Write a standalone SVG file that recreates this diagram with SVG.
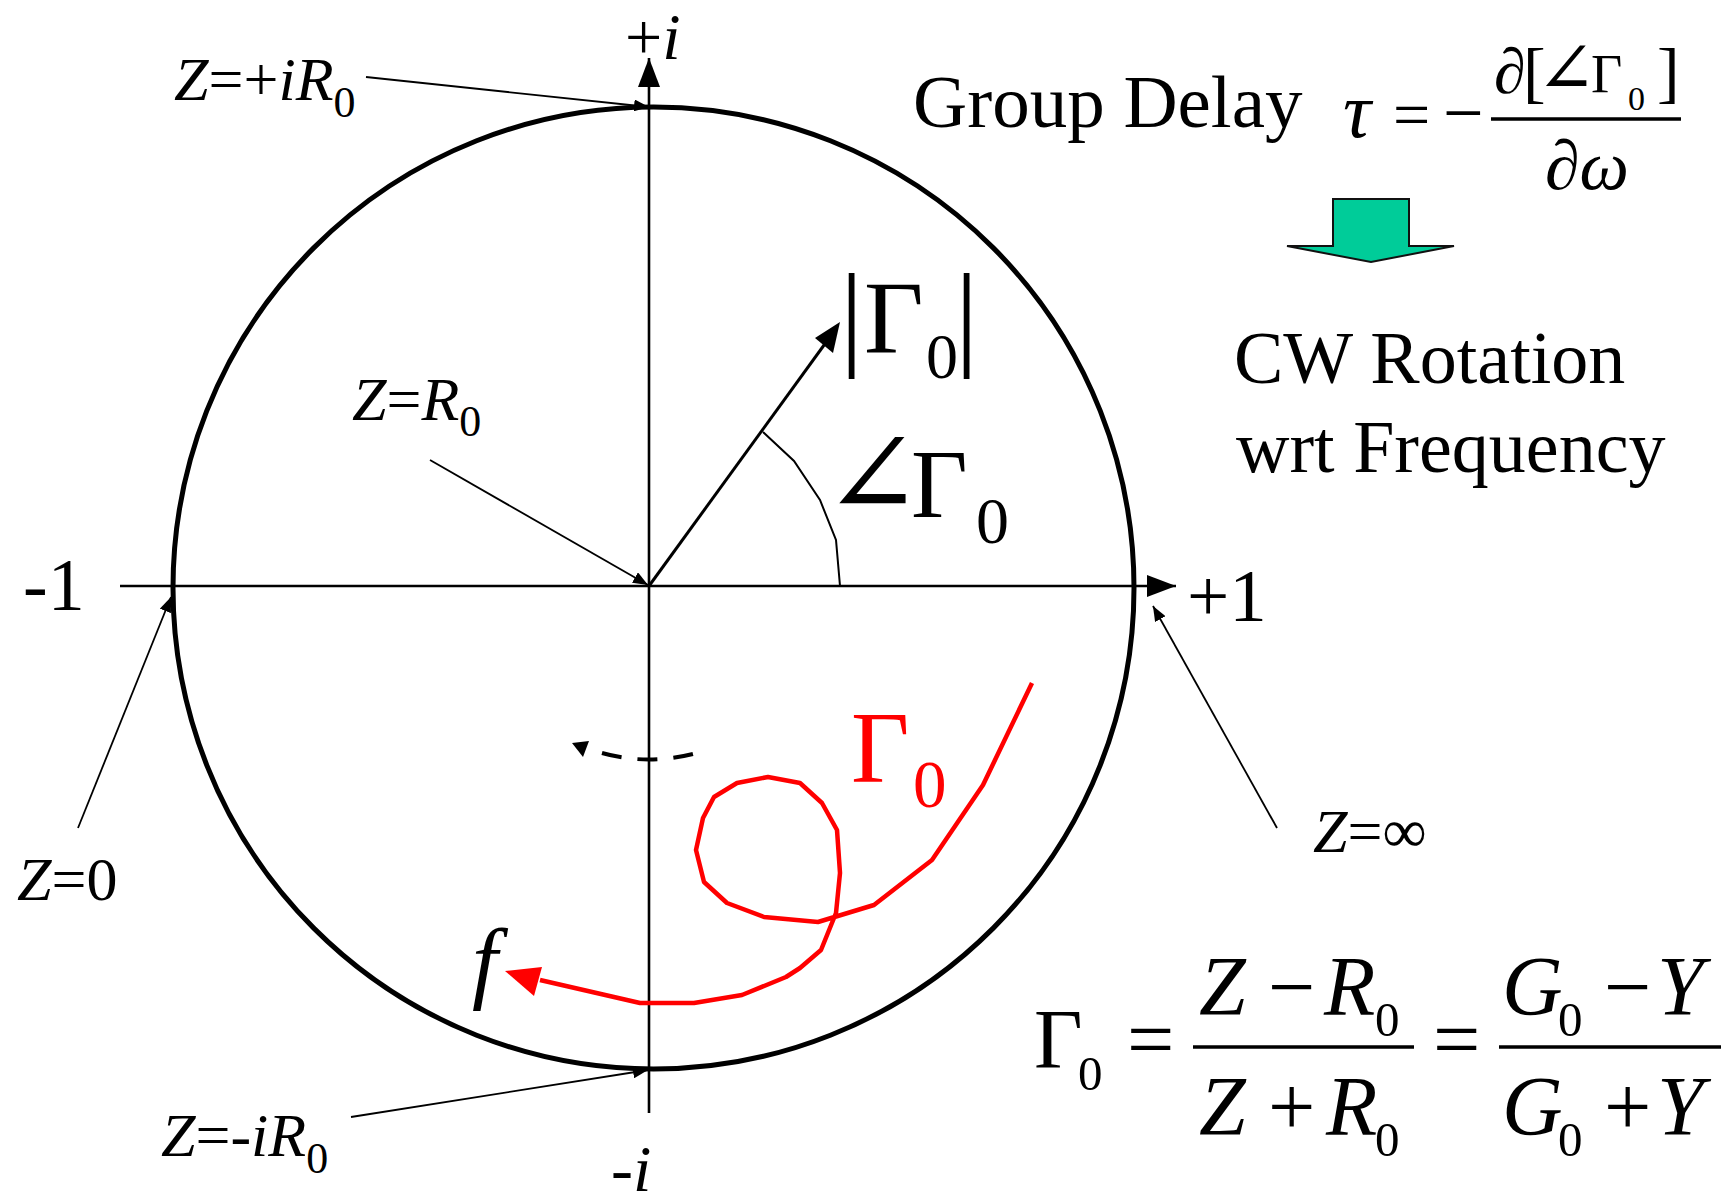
<svg xmlns="http://www.w3.org/2000/svg" width="1726" height="1197" viewBox="0 0 1726 1197">
<style>
  text { font-family: "Liberation Serif", "Times New Roman", "DejaVu Serif", serif; fill: #000; }
  .it { font-style: italic; }
  .red { fill: #ff0000; }
  .lead { stroke: #000; stroke-width: 1.8; fill: none; marker-end: url(#sm); }
  .ax { stroke: #000; stroke-width: 2.6; fill: none; marker-end: url(#big); }
  .bar { stroke: #000; stroke-width: 3.5; }
</style>
<defs>
  <marker id="sm" markerUnits="userSpaceOnUse" markerWidth="16" markerHeight="12" refX="15" refY="6" orient="auto">
    <path d="M0,0 L15,6 L0,12 z" fill="#000"/>
  </marker>
  <marker id="big" markerUnits="userSpaceOnUse" markerWidth="30" markerHeight="22" refX="29" refY="11" orient="auto">
    <path d="M0,0 L29,11 L0,22 z" fill="#000"/>
  </marker>
</defs>
<rect width="1726" height="1197" fill="#fff"/>

<g id="chart">
  <ellipse id="unit-circle" cx="653.5" cy="588" rx="480.5" ry="481" fill="none" stroke="#000" stroke-width="5"/>
  <line id="imag-axis" class="ax" x1="649" y1="1113" x2="649" y2="58"/>
  <line id="real-axis" class="ax" x1="120" y1="586" x2="1176" y2="586"/>
  <g id="gamma-vector">
    <line x1="649" y1="586" x2="827" y2="341" stroke="#000" stroke-width="3"/>
    <polygon points="840,322 815,338 833,353" fill="#000"/>
  </g>
  <polyline id="angle-arc" points="763,432 794,461 820,500 836,540 840,586" fill="none" stroke="#000" stroke-width="2"/>
  <g id="rotation-arrow">
    <path d="M602,753 Q648,766 697,753" fill="none" stroke="#000" stroke-width="4" stroke-dasharray="20 16"/>
    <polygon points="572,743 589,741 583,757" fill="#000"/>
  </g>
  <g id="gamma-locus">
    <polyline points="1032,683 983,785 932,860 874,905 818,922 764,917 727,903 704,882 696,850 703,818 714,797 737,783 768,777 800,783 822,803 837,830 840,873 836,913 821,950 800,968 786,977 742,995 694,1003 640,1003 540,980" fill="none" stroke="#ff0000" stroke-width="4.5" stroke-linejoin="round"/>
    <polygon points="505,971 542,967 534,996" fill="#ff0000"/>
  </g>
</g>

<g id="connectors">
  <line class="lead" x1="366" y1="77" x2="649" y2="107"/>
  <line class="lead" x1="430" y1="460" x2="648" y2="585"/>
  <line class="lead" x1="78" y1="828" x2="171" y2="597"/>
  <line class="lead" x1="1277" y1="828" x2="1153" y2="606"/>
  <line class="lead" x1="351" y1="1117" x2="648" y2="1070"/>
</g>

<g id="label-plus-i"><text x="625" y="59" font-size="66">+<tspan class="it">i</tspan></text></g>
<g id="label-minus-i"><text x="611" y="1191" font-size="66">-<tspan class="it">i</tspan></text></g>
<g id="label-minus-1"><text x="23" y="610" font-size="74">-1</text></g>
<g id="label-plus-1"><text x="1187" y="621" font-size="75">+1</text></g>

<g id="label-z-plus-ir0"><text x="174" y="100" font-size="62"><tspan class="it">Z</tspan>=+<tspan class="it">iR</tspan><tspan font-size="44" dy="17">0</tspan></text></g>
<g id="label-z-r0"><text x="352" y="420" font-size="62"><tspan class="it">Z</tspan>=<tspan class="it">R</tspan><tspan font-size="44" dy="16">0</tspan></text></g>
<g id="label-z-0"><text x="17" y="900" font-size="62"><tspan class="it">Z</tspan>=0</text></g>
<g id="label-z-inf"><text x="1313" y="852" font-size="62"><tspan class="it">Z</tspan>=∞</text></g>
<g id="label-z-minus-ir0"><text x="161" y="1156" font-size="62"><tspan class="it">Z</tspan>=-<tspan class="it">iR</tspan><tspan font-size="44" dy="17">0</tspan></text></g>

<g id="label-mag">
  <text font-size="116"><tspan x="840" y="354">|</tspan><tspan x="955" y="354">|</tspan></text>
  <text x="864" y="353" font-size="103">Γ</text>
  <text x="926" y="378" font-size="64">0</text>
</g>
<g id="label-angle">
  <text x="823" y="515" font-size="118">∠</text>
  <text x="911" y="517" font-size="98">Γ</text>
  <text x="976" y="543" font-size="66">0</text>
</g>
<g id="label-gamma-red">
  <text class="red" x="851" y="782" font-size="101">Γ</text>
  <text class="red" x="913" y="807" font-size="67">0</text>
</g>
<g id="label-f"><text class="it" x="472" y="992" font-size="92">f</text></g>

<g id="group-delay">
  <text x="913" y="127" font-size="75">Group Delay</text>
  <text class="it" x="1343" y="137" font-size="78">τ</text>
  <text x="1393" y="137" font-size="66">=</text>
  <text x="1443" y="137" font-size="72">−</text>
  <line class="bar" x1="1491" y1="119" x2="1681" y2="119" stroke-width="3"/>
  <text x="1494" y="93" font-size="64">∂</text>
  <text x="1523" y="95" font-size="68">[</text>
  <text x="1536" y="93" font-size="72">∠</text>
  <text x="1591" y="92" font-size="54">Γ</text>
  <text x="1628" y="110" font-size="34">0</text>
  <text x="1657" y="95" font-size="68">]</text>
  <text x="1545" y="189" font-size="70">∂<tspan class="it">ω</tspan></text>
</g>

<g id="cw-arrow">
  <polygon points="1333,199 1409,199 1409,246 1454,246 1371,262 1287,246 1333,246" fill="#00cc99" stroke="#111" stroke-width="2"/>
</g>
<g id="cw-text">
  <text x="1234" y="383" font-size="74">CW Rotation</text>
  <text x="1236" y="472" font-size="74">wrt Frequency</text>
</g>

<g id="gamma-formula">
  <text x="1034" y="1068" font-size="84">Γ</text>
  <text x="1078" y="1090" font-size="49">0</text>
  <text x="1127" y="1068" font-size="84">=</text>
  <line class="bar" x1="1193" y1="1047" x2="1414" y2="1047"/>
  <text y="1015" font-size="84"><tspan class="it" x="1199">Z</tspan><tspan x="1268">−</tspan><tspan class="it" x="1324">R</tspan></text>
  <text x="1375" y="1036" font-size="49">0</text>
  <text y="1135" font-size="84"><tspan class="it" x="1199">Z</tspan><tspan x="1268">+</tspan><tspan class="it" x="1326">R</tspan></text>
  <text x="1375" y="1156" font-size="49">0</text>
  <text x="1433" y="1068" font-size="84">=</text>
  <line class="bar" x1="1499" y1="1047" x2="1721" y2="1047"/>
  <text y="1015" font-size="84"><tspan class="it" x="1502">G</tspan><tspan x="1604">−</tspan><tspan class="it" x="1657">Y</tspan></text>
  <text x="1558" y="1036" font-size="49">0</text>
  <text y="1135" font-size="84"><tspan class="it" x="1502">G</tspan><tspan x="1604">+</tspan><tspan class="it" x="1657">Y</tspan></text>
  <text x="1558" y="1156" font-size="49">0</text>
</g>
</svg>
